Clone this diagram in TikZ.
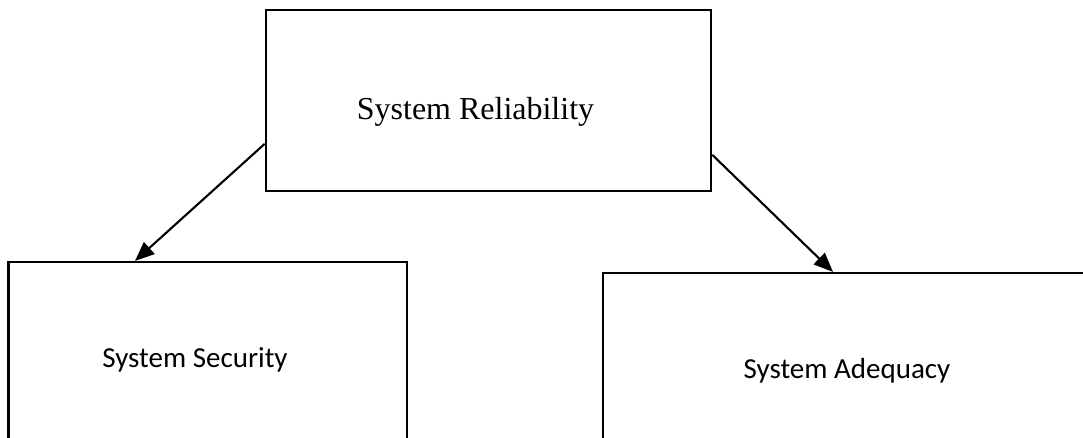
\documentclass[tikz,border=0pt]{standalone}
\usepackage{fontspec}
\setmainfont{Liberation Serif}
\newfontfamily\calibri{Carlito}
\usetikzlibrary{arrows.meta}

\tikzset{
  box/.style={draw=black, line width=1.2pt, rectangle, inner sep=0pt},
  link/.style={-{Triangle[length=11pt,width=9pt]}, line width=1.2pt},
}

\begin{document}
\begin{tikzpicture}
\clip (0,0) rectangle (21.66,8.74);

\node[box, minimum width=8.91cm, minimum height=3.61cm] (rel) at (9.77,6.733) {};
\node[anchor=base] (reltext) at (9.51,6.34) {\fontsize{18.2}{21}\selectfont System Reliability};

\node[box, minimum width=7.97cm, minimum height=4.6cm] (sec) at (4.155,1.2) {};
\node[anchor=base] (sectext) at (3.9,1.4) {\calibri\fontsize{16.5}{19}\selectfont System Security};

\node[box, minimum width=9.94cm, minimum height=4.4cm] (adq) at (17.03,1.08) {};
\node[anchor=base] (adqtext) at (16.94,1.18) {\calibri\fontsize{16.5}{19}\selectfont System Adequacy};

\draw[link] ([yshift=-0.87cm]rel.west) -- ([xshift=-1.455cm]sec.north);
\draw[link] ([yshift=-1.09cm]rel.east) -- ([xshift=-0.37cm]adq.north);

\end{tikzpicture}
\end{document}
